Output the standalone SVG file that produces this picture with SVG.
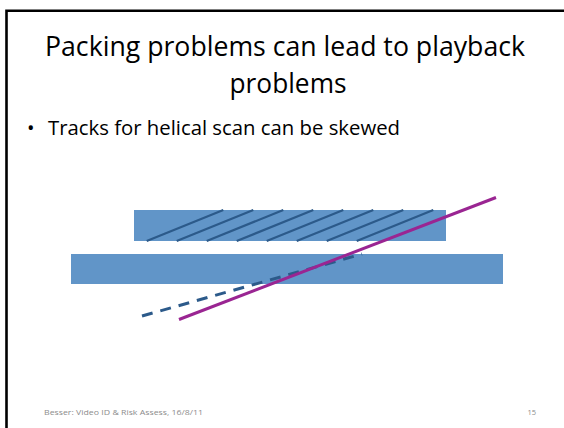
<svg xmlns="http://www.w3.org/2000/svg" width="564" height="428" viewBox="0 0 564 428">
<style>
.t{font-family:"Open Sans","Liberation Sans",sans-serif;fill:#000}
.f{font-family:"Open Sans","Liberation Sans",sans-serif;fill:#8C8C8C;font-size:7.5px}
.bar{fill:#6195C8}
.trk{stroke:#2C5A8A;stroke-width:2.2;fill:none}
</style>
<rect width="564" height="428" fill="#fff"/>
<path d="M6.5 428V10.7H564" fill="none" stroke="#000" stroke-width="2.6"/>
<g id="title">
<text class="t" x="285" y="56" font-size="28" text-anchor="middle" textLength="480" lengthAdjust="spacingAndGlyphs">Packing problems can lead to playback</text>
<text class="t" x="288" y="93" font-size="28" text-anchor="middle" textLength="117" lengthAdjust="spacingAndGlyphs">problems</text>
</g>
<g id="bullet">
<text class="t" x="27" y="135" font-size="20">•</text>
<text class="t" x="48" y="135" font-size="20" textLength="352" lengthAdjust="spacingAndGlyphs">Tracks for helical scan can be skewed</text>
</g>
<g id="tape-top">
<rect class="bar" x="134" y="210" width="312" height="31"/>
</g>
<g id="tape-bottom">
<rect class="bar" x="71" y="254" width="432" height="30"/>
</g>
<g id="tracks">
<path class="trk" d="M146.7 241L223.3 210M176.7 241L253.3 210M206.7 241L283.3 210M236.7 241L313.3 210M266.7 241L343.3 210M296.7 241L373.3 210M326.7 241L403.3 210M356.7 241L433.3 210"/>
</g>
<g id="connectors">
<line x1="142" y1="316" x2="362" y2="254" stroke="#2C5A8A" stroke-width="3" stroke-dasharray="11,8"/>
<line x1="179" y1="319.5" x2="496" y2="197.5" stroke="#9A2592" stroke-width="3"/>
</g>
<g id="footer">
<text class="f" x="44" y="415" textLength="159" lengthAdjust="spacingAndGlyphs">Besser: Video ID &amp; Risk Assess, 16/8/11</text>
<text class="f" x="536" y="415" text-anchor="end">15</text>
</g>
</svg>
